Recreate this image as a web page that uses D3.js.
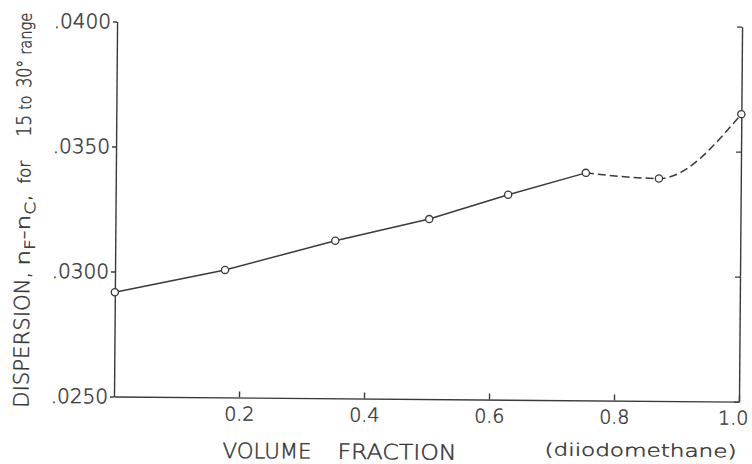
<!DOCTYPE html>
<html>
<head>
<meta charset="utf-8">
<script src="https://cdn.jsdelivr.net/npm/d3@7"></script>
<style>
    body { margin: 0; background: #fff; }
    text { font-family: "DejaVu Sans", sans-serif; font-weight: 300; fill: #353535; stroke: #353535; stroke-width: 0.45px; }
</style>
</head>
<body>
<div id="chart"></div>
<script>
// values
const fraction = [0, 0.176, 0.352, 0.502, 0.628, 0.752, 0.869, 1.0]
const dispersion = [0.02917, 0.0301, 0.0313, 0.0322, 0.0332, 0.0341, 0.0339, 0.0365]
const solid_last = 5   // points 0..5 joined by straight lines, the rest is a dashed guess
const y_ticks = [0.025, 0.030, 0.035, 0.040]
const x_ticks = [0.2, 0.4, 0.6, 0.8, 1.0]
const x_title = ["VOLUME", "FRACTION", "(diiodomethane)"]
const y_title = ["DISPERSION,", "for", "15", "to", "30°", "range"]

const W = 752, H = 464
const margin = {left: 114, top: 21.5}
const width = 625, height = 375
const ink = "#3a3a3a"
const tilt = 0.47   // the scanned page is turned a little clockwise

const points = fraction.map((f, i) => ({f: f, d: dispersion[i]}))

const x = d3.scaleLinear().domain([0, 1]).range([0, width])
const y = d3.scaleLinear().domain([0.025, 0.040]).range([height, 0])

let svg = d3.select("#chart").append("svg")
    .attr("width", W).attr("height", H)

let page = svg.append("g")
    .attr("transform", "rotate(" + tilt + "," + margin.left + "," + (margin.top + height) + ")")

let g = page.append("g")
    .attr("transform", "translate(" + margin.left + "," + margin.top + ")")

// left axis
let ax_left = g.append("g")
    .call(d3.axisLeft(y).tickValues(y_ticks)
        .tickFormat(d => d3.format(".4f")(d).slice(1))
        .tickSizeInner(4).tickSizeOuter(0).tickPadding(2))
ax_left.selectAll("text").attr("font-size", "20px")

// right axis, ticks only
g.append("g")
    .attr("transform", "translate(" + width + ",0)")
    .call(d3.axisLeft(y).tickValues(y_ticks).tickFormat("")
        .tickSizeInner(5).tickSizeOuter(0))

// bottom axis, ticks point up
let ax_bottom = g.append("g")
    .attr("transform", "translate(0," + height + ")")
    .call(d3.axisBottom(x).tickValues(x_ticks)
        .tickFormat(d3.format(".1f"))
        .tickSizeInner(-6).tickSizeOuter(0).tickPadding(9.5))
ax_bottom.selectAll("text").attr("font-size", "19px")
// last label sits against the page edge
ax_bottom.selectAll(".tick text").filter(d => d === 1.0)
    .attr("text-anchor", "end").attr("x", 9)

g.selectAll(".domain, .tick line")
    .attr("stroke", ink).attr("stroke-width", 1.4)
g.selectAll(".tick text").attr("fill", null)
svg.selectAll("g[font-family]").attr("font-family", null)

// solid part
let line = d3.line().x(d => x(d.f)).y(d => y(d.d))
g.append("path")
    .datum(points.slice(0, solid_last + 1))
    .attr("d", line)
    .attr("fill", "none").attr("stroke", ink).attr("stroke-width", 1.5)

// dashed part, bent through the last points
g.append("path")
    .datum(points.slice(solid_last))
    .attr("d", line.curve(d3.curveMonotoneX))
    .attr("fill", "none").attr("stroke", ink).attr("stroke-width", 1.5)
    .attr("stroke-dasharray", "8,4")

g.selectAll("circle.pt")
    .data(points)
    .enter().append("circle")
    .attr("class", "pt")
    .attr("cx", d => x(d.f)).attr("cy", d => y(d.d))
    .attr("r", 3.6)
    .attr("fill", "#fff").attr("stroke", ink).attr("stroke-width", 1.3)

// x title
const x_parts = [
    {t: x_title[0], x: 223, len: 89, size: 21, base: 457},
    {t: x_title[1], x: 338, len: 119, size: 21, base: 457},
    {t: x_title[2], x: 545, len: 192, size: 17, base: 452},
]
page.selectAll("text.xt")
    .data(x_parts)
    .enter().append("text")
    .attr("class", "xt")
    .attr("x", d => d.x).attr("y", d => d.base)
    .attr("font-size", d => d.size + "px")
    .attr("textLength", d => d.len).attr("lengthAdjust", "spacingAndGlyphs")
    .text(d => d.t)

// y title, read bottom to top
let yt = page.append("g")
    .attr("transform", "translate(28.5,408.5) rotate(-90)")

const y_parts = [
    {t: y_title[0], x: 0, len: 136, size: 21},
    {t: y_title[1], x: 224, len: 23, size: 17},
    {t: y_title[2], x: 271, len: 22, size: 20},
    {t: y_title[3], x: 298, len: 14, size: 17},
    {t: y_title[4], x: 320, len: 28, size: 20},
    {t: y_title[5], x: 353, len: 42, size: 17},
]
yt.selectAll("text.yp")
    .data(y_parts)
    .enter().append("text")
    .attr("class", "yp")
    .attr("x", d => d.x)
    .attr("font-size", d => d.size + "px")
    .attr("textLength", d => d.len).attr("lengthAdjust", "spacingAndGlyphs")
    .text(d => d.t)

// n_F - n_C with subscripts
let nfc = yt.append("text")
    .attr("x", 142)
    .attr("font-size", "19px")
    .attr("textLength", 72).attr("lengthAdjust", "spacingAndGlyphs")
nfc.append("tspan").text("n")
nfc.append("tspan").attr("font-size", "14px").attr("dy", 5).text("F")
nfc.append("tspan").attr("dy", -5).text("-n")
nfc.append("tspan").attr("font-size", "14px").attr("dy", 5).text("C")
nfc.append("tspan").attr("dy", -5).text(",")
</script>
</body>
</html>
